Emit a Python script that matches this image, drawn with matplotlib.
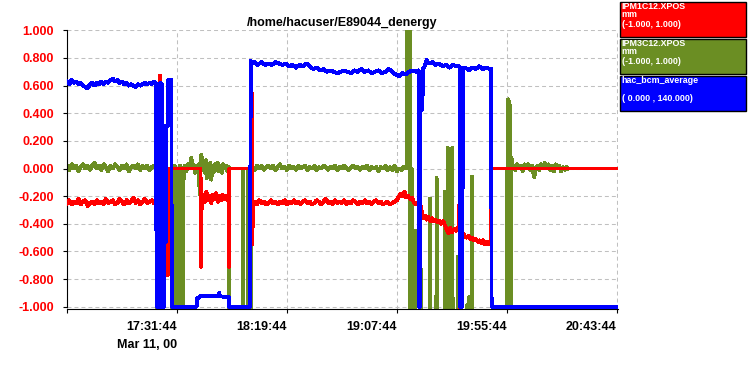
import numpy as np
import matplotlib
matplotlib.use('Agg')
import matplotlib.pyplot as plt
import matplotlib.dates as mdates
from matplotlib.patches import Rectangle

plt.rcParams['font.family'] = ['Liberation Sans', 'DejaVu Sans']

# time axis: minutes after 16:43:44 on Mar 11, 2000
start = np.datetime64('2000-03-11T16:43:44')
tick_minutes = [0, 48, 96, 144, 192, 240]
tick_labels = ['', '17:31:44', '18:19:44', '19:07:44', '19:55:44', '20:43:44']
date_label = 'Mar 11, 00'
y_ticks = [-1.0, -0.8, -0.6, -0.4, -0.2, 0.0, 0.2, 0.4, 0.6, 0.8, 1.0]
title = '/home/hacuser/E89044_denergy'

legend_names = ['IPM1C12.XPOS', 'IPM3C12.XPOS', 'hac_bcm_average']
legend_units = ['mm', 'mm', '']
legend_ranges = ['(-1.000, 1.000)', '(-1.000, 1.000)', '( 0.000 , 140.000)']
colors = ['#ff0000', '#6b8e23', '#0000ff']

# (minute, value); -1.5 = off scale below
red_trace = [
    (0, -0.25), (1, -0.23), (2, -0.26), (3, -0.24), (4, -0.25), (5, -0.22), (6, -0.26), (7, -0.24),
    (8, -0.23), (9, -0.27), (10, -0.25), (11, -0.24), (12, -0.26), (13, -0.23), (14, -0.25), (15, -0.24),
    (16, -0.26), (17, -0.22), (18, -0.25), (19, -0.24), (20, -0.23), (21, -0.26), (22, -0.25), (23, -0.22),
    (24, -0.24), (25, -0.26), (26, -0.23), (27, -0.25), (28, -0.24), (29, -0.21), (30, -0.25), (31, -0.23),
    (32, -0.26), (33, -0.24), (34, -0.22), (35, -0.25), (36, -0.24), (37, -0.23), (38, -0.25), (39, -0.24),
    (39.2, 0.0), (39.6, 0.0), (39.7, -0.35), (39.9, 0.0), (40.5, 0.0), (40.6, 0.67), (40.8, 0.0),
    (43.9, 0.0), (44.0, -0.77), (44.2, 0.0), (58.3, 0.0), (58.5, -0.71), (58.8, -0.22),
    (59.5, -0.19), (60.2, -0.24), (60.9, -0.17), (61.6, -0.23), (62.3, -0.20), (63.0, -0.25),
    (63.7, -0.19), (64.4, -0.22), (65.1, -0.18), (65.8, -0.24), (66.5, -0.20), (67.2, -0.23),
    (67.9, -0.19), (68.6, -0.22), (69.3, -0.20), (70.0, -0.23), (70.5, -0.21),
    (70.7, -0.71), (70.9, 0.0), (80.4, 0.0), (80.6, 0.55), (80.9, -0.55), (81.2, -0.25),
    (82, -0.24), (83, -0.26), (84, -0.23), (85, -0.25), (86, -0.24), (87, -0.26), (88, -0.25), (89, -0.23),
    (90, -0.25), (91, -0.24), (92, -0.26), (93, -0.24), (94, -0.25), (95, -0.23), (96, -0.26), (97, -0.24),
    (98, -0.25), (99, -0.23), (100, -0.25), (101, -0.24), (102, -0.26), (103, -0.24), (104, -0.23),
    (105, -0.25), (106, -0.24), (107, -0.26), (108, -0.25), (109, -0.23), (110, -0.24), (111, -0.26),
    (112, -0.24), (113, -0.22), (114, -0.25), (115, -0.24), (116, -0.26), (117, -0.23), (118, -0.25),
    (119, -0.24), (120, -0.25), (121, -0.23), (122, -0.26), (123, -0.24), (124, -0.25), (125, -0.23),
    (126, -0.24), (127, -0.26), (128, -0.24), (129, -0.25), (130, -0.23), (131, -0.25), (132, -0.24),
    (133, -0.26), (134, -0.24), (135, -0.23), (136, -0.25), (137, -0.24), (138, -0.26), (139, -0.25),
    (140, -0.24), (141, -0.26), (142, -0.25), (143, -0.24), (144, -0.23), (145, -0.20), (145.8, -0.18),
    (146.6, -0.20), (147.4, -0.17), (148.2, -0.21), (149, -0.20), (149.8, -0.22), (150.6, -0.21),
    (151.4, -0.24), (152.2, -0.26), (153, -0.25), (153.8, -0.28), (154.5, -0.27), (155, -0.32),
    (155.6, -0.36), (156.3, -0.34), (157, -0.37), (157.8, -0.35), (158.6, -0.38), (159.4, -0.36),
    (160.2, -0.38), (161, -0.37), (161.8, -0.39), (162.6, -0.38), (163.4, -0.40), (164.2, -0.38),
    (165, -0.41), (165.8, -0.44), (166.6, -0.47), (167.4, -0.43), (168.2, -0.46), (169, -0.44),
    (169.8, -0.45), (170.6, -0.43), (171.3, -0.45), (171.5, 0.0), (171.7, -1.5), (172.2, -0.46),
    (173, -0.47), (173.8, -0.49), (174.6, -0.50), (175.4, -0.49), (176.2, -0.51), (177, -0.50),
    (177.8, -0.52), (178.6, -0.51), (179.4, -0.53), (180.2, -0.52), (181, -0.54), (181.8, -0.52),
    (182.6, -0.55), (183.4, -0.53), (184.2, -0.55), (185, -0.54), (185.3, 0.0), (240, 0.0),
]

olive_trace = [
    (0, 0.02), (1, -0.01), (2, 0.03), (3, 0.00), (4, 0.02), (5, -0.02), (6, 0.01), (7, 0.03), (8, 0.00),
    (9, 0.02), (10, -0.01), (11, 0.02), (12, 0.04), (13, 0.00), (14, 0.02), (15, -0.01), (16, 0.03),
    (17, 0.01), (18, -0.02), (19, 0.02), (20, 0.00), (21, 0.03), (22, 0.01), (23, -0.01), (24, 0.02),
    (25, 0.00), (26, 0.03), (27, -0.02), (28, 0.01), (29, 0.02), (30, 0.00), (31, 0.03), (32, -0.01),
    (33, 0.02), (34, 0.00), (35, 0.02), (36, -0.01), (37, 0.01), (38, 0.02), (39, 0.00),
    (39.3, -1.5), (40.2, -1.5), (40.3, 0.0), (40.4, -1.5), (41.9, -1.5), (42.0, 0.0), (42.1, -1.5),
    (45.6, -1.5), (45.7, 0.01), (46.4, -0.02), (47.0, 0.02), (47.6, 0.0), (47.7, -1.5), (48.8, -1.5),
    (48.9, 0.0), (49.4, 0.02), (49.9, 0.0), (50.0, -1.5), (50.8, -1.5), (50.9, 0.0),
    (51.5, 0.02), (52.1, -0.02), (52.7, 0.03), (53.3, 0.00), (53.9, 0.04), (54.3, 0.08), (54.7, 0.00),
    (55.3, 0.03), (55.9, -0.03), (56.5, 0.02), (57.1, -0.02), (57.7, 0.03), (57.9, -0.19), (58.2, 0.02),
    (58.7, 0.10), (59.1, 0.01), (59.6, 0.05), (60.1, -0.03), (60.6, 0.06), (61.0, -0.07), (61.5, 0.03),
    (62.0, -0.05), (62.5, 0.04), (63.0, -0.08), (63.5, 0.02), (64.0, -0.03), (64.6, 0.03), (65.2, -0.01),
    (65.8, 0.04), (66.4, -0.02), (67.0, 0.02), (67.6, -0.03), (68.2, 0.03), (68.8, 0.00), (69.4, 0.02),
    (70.0, -0.02), (70.6, 0.01), (70.8, -1.5), (76.6, -1.5), (76.7, 0.0), (77.3, -1.5), (78.8, -1.5),
    (78.9, 0.0), (79.0, -1.5), (80.4, -1.5), (80.5, 0.0),
    (81, 0.01), (82, -0.01), (83, 0.02), (84, 0.00), (85, 0.02), (86, -0.01), (87, 0.01), (88, 0.02),
    (89, 0.00), (90, 0.02), (91, -0.01), (92, 0.01), (93, 0.03), (94, 0.00), (95, 0.01), (96, -0.01),
    (97, 0.02), (98, 0.00), (99, 0.01), (100, -0.01), (101, 0.02), (102, 0.00), (103, 0.01), (104, 0.02),
    (105, -0.01), (106, 0.01), (107, 0.00), (108, 0.02), (109, -0.01), (110, 0.01), (111, 0.00),
    (112, 0.02), (113, 0.01), (114, -0.01), (115, 0.01), (116, 0.00), (117, 0.02), (118, -0.01),
    (119, 0.01), (120, 0.00), (121, 0.02), (122, 0.00), (123, -0.01), (124, 0.01), (125, 0.02),
    (126, 0.00), (127, 0.01), (128, -0.01), (129, 0.01), (130, 0.00), (131, 0.02), (132, -0.01),
    (133, 0.01), (134, 0.00), (135, 0.01), (136, -0.02), (137, 0.01), (138, 0.00), (139, 0.02),
    (140, -0.01), (141, 0.01), (142, -0.01), (143, 0.02), (144, -0.02), (145, 0.00), (146, -0.01),
    (147, 0.01), (148, 0.00), (148.3, 0.0), (148.4, 1.2), (149.6, 1.2), (149.8, -1.5),
    (150.4, -1.5), (150.5, 0.0), (150.6, -1.5), (151.2, -1.5), (151.3, -0.89), (151.4, -1.5),
    (151.9, -1.5), (152.0, -0.45), (152.1, -1.5), (154.5, -1.5), (154.6, -0.73), (154.7, -1.5),
    (158.4, -1.5), (158.5, -0.22), (158.6, -1.5), (161.3, -1.5), (161.4, -0.07), (161.5, -1.5),
    (164.9, -1.5), (165.0, -0.17), (165.1, -1.5), (165.7, -1.5), (165.8, -0.35), (165.9, -1.5),
    (166.2, -1.5), (166.3, 0.15), (166.4, -1.5), (168.2, -1.5), (168.3, 0.15), (168.4, -1.5),
    (170.6, -1.5), (170.7, -0.64), (170.8, -1.5), (174.4, -1.5), (174.5, -0.99), (174.6, -1.5),
    (175.6, -1.5), (175.7, -0.93), (175.8, -1.5), (176.8, -1.5), (176.9, -0.06), (177.0, -1.5),
    (191.9, -1.5), (192.0, 0.0), (192.2, -1.5), (192.6, -1.5), (192.7, 0.50), (193.3, 0.46),
    (193.6, -1.5), (194.1, 0.08), (194.5, 0.0),
    (195, 0.02), (195.8, -0.01), (196.6, 0.03), (197.4, 0.00), (198.2, 0.02), (199, -0.02),
    (199.8, 0.03), (200.6, 0.01), (201.4, 0.03), (202.2, -0.01), (203, 0.02), (203.6, -0.03),
    (204.1, -0.06), (204.6, 0.00), (205.4, 0.02), (206.2, -0.01), (207, 0.03), (207.8, 0.01),
    (208.6, 0.04), (209.4, 0.00), (210.2, 0.03), (211, -0.01), (211.8, 0.02), (212.6, -0.02),
    (213.4, 0.03), (214.2, 0.00), (215, 0.02), (215.8, -0.02), (216.6, 0.01), (217.4, -0.01),
    (218.2, 0.01), (218.8, 0.00),
]

# beam current, shown on the same -1..1 scale (0 -> -1, 140 -> 1)
blue_trace = [
    (0, 0.63), (1, 0.61), (2, 0.64), (3, 0.62), (4, 0.63), (5, 0.61), (6, 0.62), (7, 0.60), (8, 0.59),
    (9, 0.58), (10, 0.61), (11, 0.62), (12, 0.60), (13, 0.62), (14, 0.61), (15, 0.63), (16, 0.61),
    (17, 0.63), (18, 0.62), (19, 0.64), (20, 0.65), (21, 0.63), (22, 0.64), (23, 0.62), (24, 0.63),
    (25, 0.61), (26, 0.62), (27, 0.60), (28, 0.61), (29, 0.60), (30, 0.59), (31, 0.61), (32, 0.60),
    (33, 0.61), (34, 0.62), (35, 0.61), (36, 0.62), (37, 0.61), (38, 0.63), (39, 0.61),
    (39.1, -1.0), (40.7, -1.0), (40.8, 0.62), (41.5, 0.61), (41.6, -1.0), (42.5, -1.0), (42.6, -0.53),
    (43.2, -0.53), (43.3, 0.31), (44.0, 0.31), (44.1, 0.64), (45.6, 0.64), (45.7, -1.0),
    (56.6, -1.0), (56.8, -0.94), (57.9, -0.93), (58.8, -0.92), (62, -0.92), (64, -0.925),
    (66.3, -0.925), (66.5, -0.90), (66.8, -0.925), (70.7, -0.93), (70.8, -1.0), (80.0, -1.0),
    (80.2, 0.78), (81, 0.76), (82, 0.77), (83, 0.75), (84, 0.76), (85, 0.77), (86.5, 0.75), (88, 0.76),
    (89.5, 0.75), (91, 0.77), (92.5, 0.76), (94, 0.75), (95.5, 0.76), (97, 0.74), (98.5, 0.75),
    (100, 0.73), (101.5, 0.75), (103, 0.74), (104.5, 0.76), (106, 0.74), (107.5, 0.72), (109, 0.73),
    (110.5, 0.71), (112, 0.72), (113.5, 0.70), (115, 0.71), (116.5, 0.70), (118, 0.69), (119.5, 0.70),
    (121, 0.71), (122.5, 0.70), (124, 0.69), (125.5, 0.71), (127, 0.70), (128.5, 0.72), (130, 0.70),
    (131.5, 0.71), (133, 0.69), (134.5, 0.70), (136, 0.71), (137.5, 0.69), (139, 0.70), (140.5, 0.72),
    (142, 0.70), (143.5, 0.68), (145, 0.67), (146.5, 0.69), (148, 0.68), (149.5, 0.70), (151, 0.71),
    (152.5, 0.70), (153.5, 0.71), (153.7, -1.0), (154.3, -1.0), (154.4, 0.70), (154.8, 0.42),
    (155.2, 0.44), (155.4, 0.72), (156.2, 0.74), (157, 0.785), (158, 0.76), (159.5, 0.77), (161, 0.75),
    (162.5, 0.76), (164, 0.74), (165.5, 0.75), (167, 0.73), (168.5, 0.75), (170, 0.74), (171.4, 0.74),
    (171.6, -1.0), (172.4, -1.0), (172.5, 0.73), (172.8, -0.14), (173.0, 0.73), (174, 0.73),
    (175.5, 0.71), (177, 0.73), (178.5, 0.72), (180, 0.74), (181.5, 0.72), (183, 0.73), (184.5, 0.72),
    (185.3, 0.72), (185.4, -1.0), (240, -1.0),
]


def to_time(minutes):
    secs = np.round(np.asarray(minutes, dtype=float) * 60).astype(int)
    return start + secs.astype('timedelta64[s]')


W, H = 748, 375
fig = plt.figure(figsize=(W / 100, H / 100), dpi=100)
ax = fig.add_axes([67 / W, 66.3 / H, 550.5 / W, 279.2 / H])

series = [(red_trace, 3), (olive_trace, 2), (blue_trace, 4)]
for (trace, z), c in zip(series, colors):
    mins, vals = zip(*trace)
    ax.plot(to_time(mins), vals, color=c, lw=2.1, zorder=z, antialiased=False)

ax.set_xlim(to_time(0), to_time(240.4))
ax.set_ylim(-1.0145, 1.006)

ax.set_yticks(y_ticks, labels=['%.3f' % v for v in y_ticks],
              fontsize=9, fontweight='bold', color='#ff0000')
ax.set_xticks(to_time(tick_minutes), labels=tick_labels,
              fontsize=9, fontweight='bold', ha='right')
ax.tick_params(axis='y', length=3, width=0.8, pad=6.5)
ax.tick_params(axis='x', length=3, width=0.8, pad=6)

ax.grid(True, color='#c0c0c0', linestyle=(0, (3.8, 2.9)), linewidth=0.75)
ax.set_axisbelow(True)
for side in ['top', 'right']:
    ax.spines[side].set_visible(False)
for side in ['left', 'bottom']:
    ax.spines[side].set_linewidth(0.8)
ax.spines['left'].set_bounds(-1.0, 1.006)

ax.annotate(date_label, xy=(mdates.date2num(to_time(48)), 0),
            xycoords=('data', 'axes fraction'), xytext=(0, -22),
            textcoords='offset points', ha='right', va='top',
            fontsize=9, fontweight='bold')

ax.set_title(title, fontsize=9, fontweight='bold', pad=2.5)

# legend boxes on the right
for i in range(3):
    top = 2.3 + 37 * i
    fig.add_artist(Rectangle((620 / W, 1 - (top + 35) / H), 126 / W, 35 / H,
                             transform=fig.transFigure, facecolor=colors[i],
                             edgecolor='black', lw=1.0))
    lines = [legend_names[i], legend_units[i], legend_ranges[i]]
    for txt, dy in zip(lines, [6.9, 15.1, 24.3]):
        if txt:
            fig.text(621.5 / W, 1 - (top + dy) / H, txt, color='white',
                     fontsize=6.4, fontweight='bold', ha='left', va='baseline')

fig.savefig('out.png', dpi=100)
